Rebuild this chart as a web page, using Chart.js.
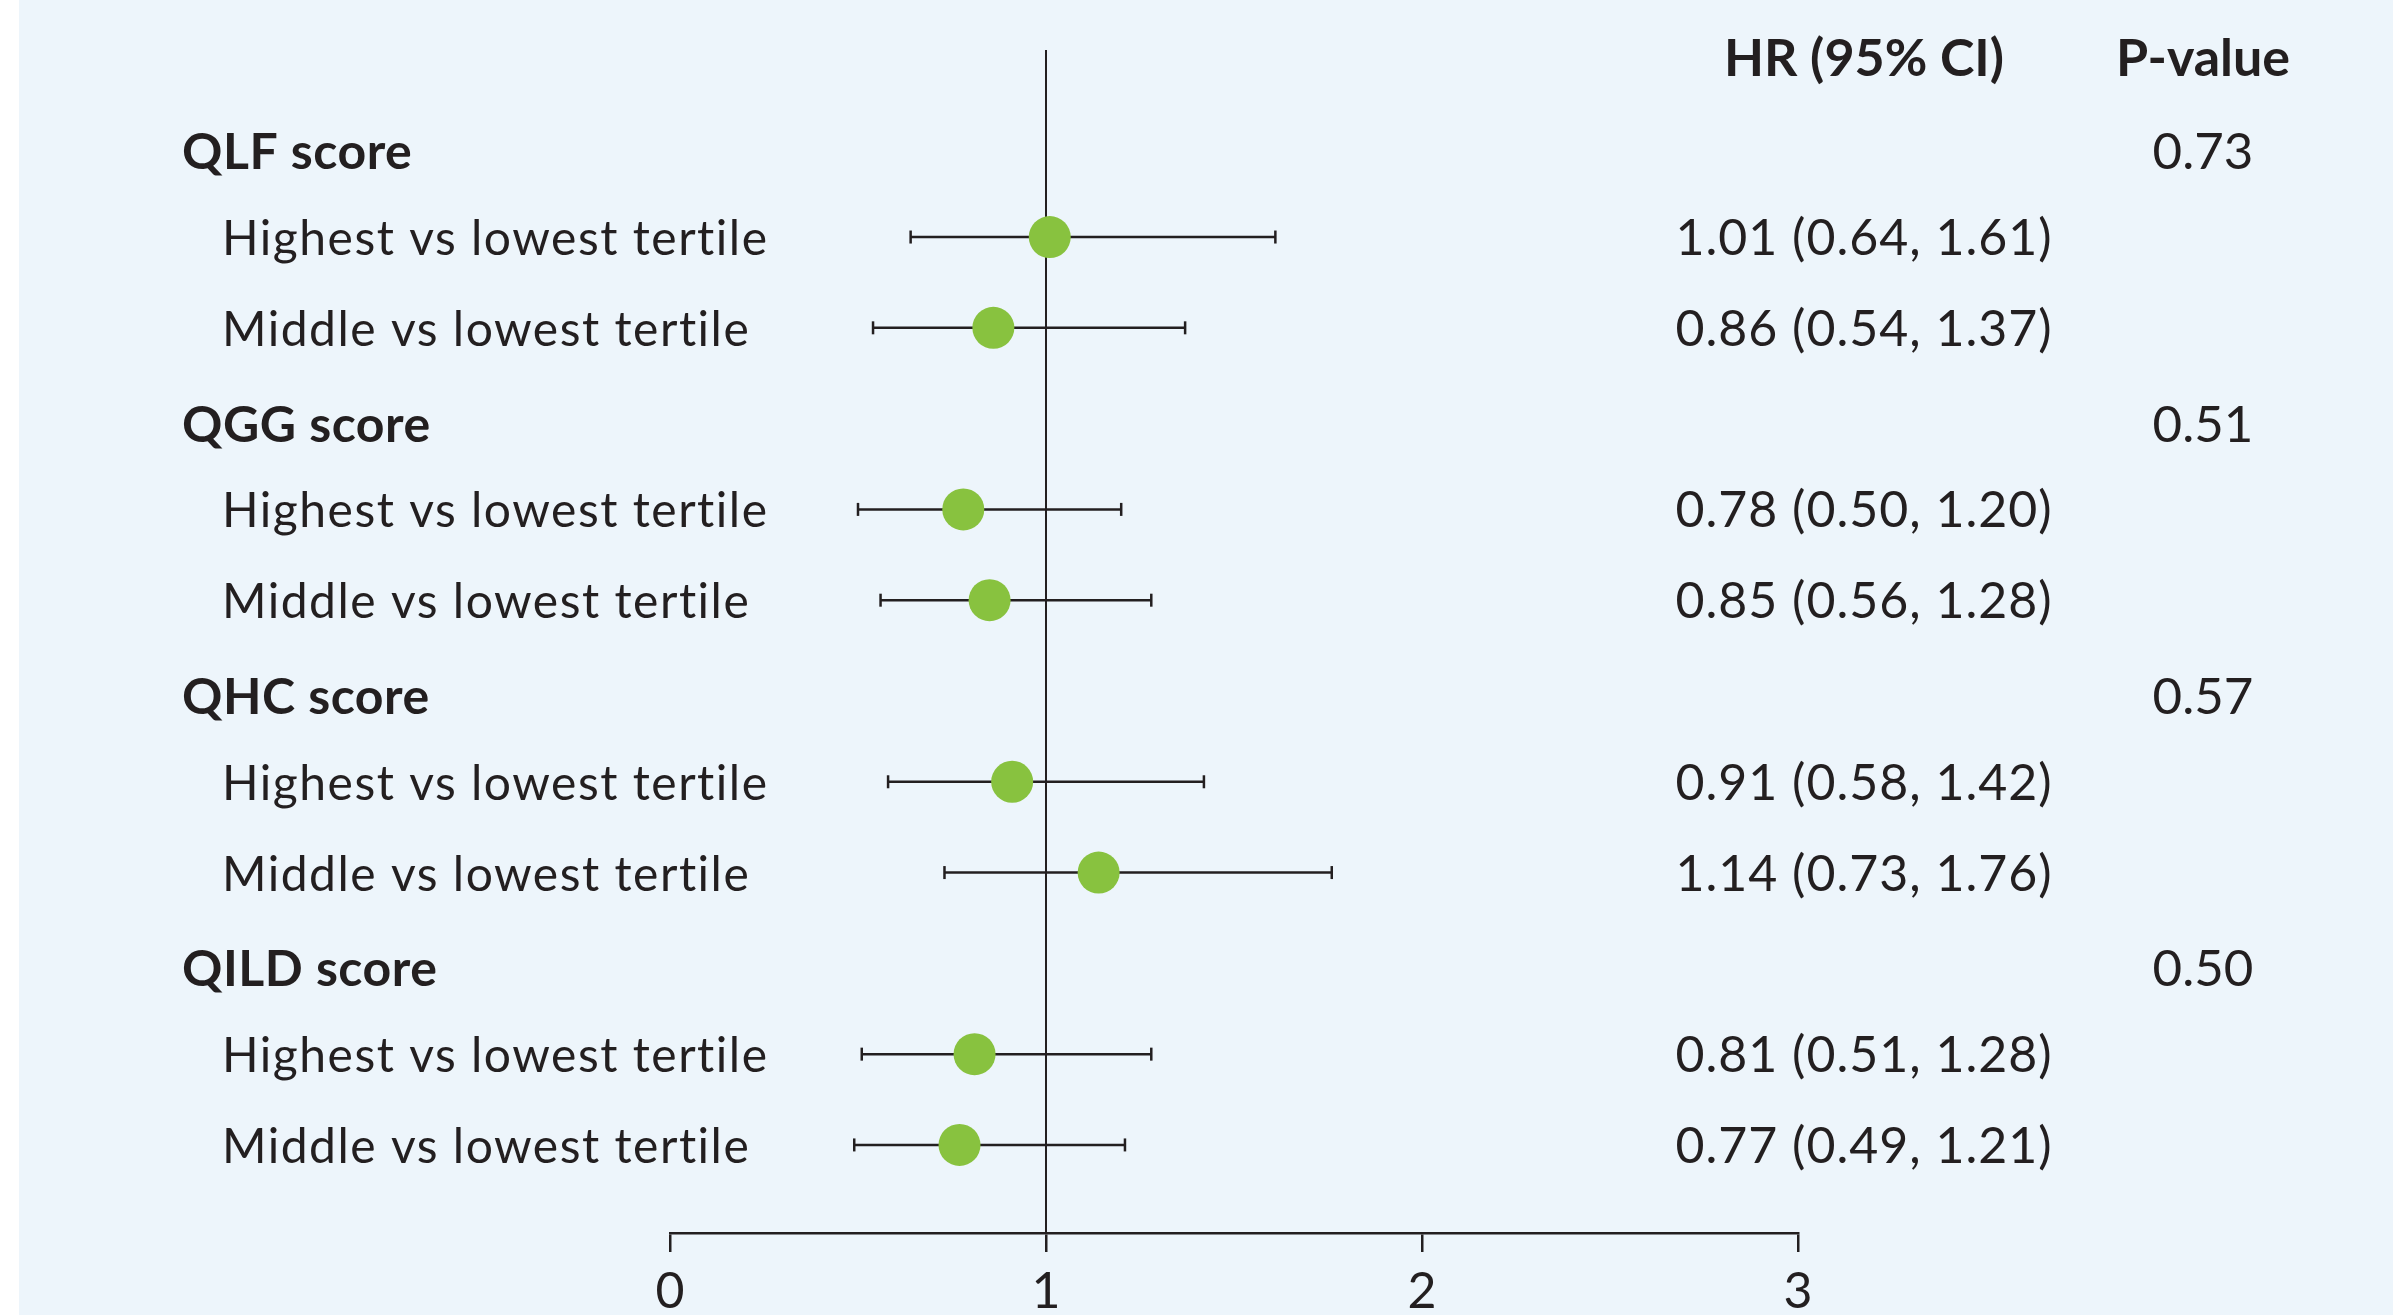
<!DOCTYPE html>
<html>
<head>
<meta charset="utf-8">
<script src="https://cdn.jsdelivr.net/npm/chart.js@4.4.1/dist/chart.umd.min.js"></script>
<style>
  html, body { margin: 0; padding: 0; background: #fff; }
  canvas { display: block; }
</style>
</head>
<body>
<canvas id="forest" width="2393" height="1315"></canvas>
<script>
// score groups and the two comparisons in each group
var groups = ["QLF score", "QGG score", "QHC score", "QILD score"];
var comparisons = ["Highest vs lowest tertile", "Middle vs lowest tertile"];

// hazard ratios, group by group (highest, middle)
var hr = [1.01, 0.86, 0.78, 0.85, 0.91, 1.14, 0.81, 0.77];
var ciLow = [0.64, 0.54, 0.50, 0.56, 0.58, 0.73, 0.51, 0.49];
var ciHigh = [1.61, 1.37, 1.20, 1.28, 1.42, 1.76, 1.28, 1.21];
var pValues = ["0.73", "0.51", "0.57", "0.50"];

var xTicks = [0, 1, 2, 3];
var refValue = 1;

var ink = "#231f20";
var green = "#88c23f";
var bg = "#edf5fb";

Chart.defaults.font.family = "Lato";
Chart.defaults.color = ink;

// row index for each comparison (group header takes one row)
function rowOf(g, c) { return g * 3 + 1 + c; }

var points = [];
var ciSets = [];
for (var g = 0; g < groups.length; g++) {
  for (var c = 0; c < comparisons.length; c++) {
    var i = g * 2 + c;
    var r = rowOf(g, c);
    points.push({ x: hr[i], y: r });
    ciSets.push({
      data: [{ x: ciLow[i], y: r }, { x: ciHigh[i], y: r }],
      showLine: true,
      borderColor: ink,
      borderWidth: 2.5,
      pointStyle: "line",
      pointRotation: 90,
      pointRadius: 6.5,
      pointBorderColor: ink,
      pointBorderWidth: 2.5,
      pointHoverRadius: 6.5
    });
  }
}

var yMin = -1.06, yMax = 11.97;

var datasets = [{
  data: points,
  pointStyle: "circle",
  pointRadius: 21,
  pointHoverRadius: 21,
  backgroundColor: green,
  pointBackgroundColor: green,
  pointBorderWidth: 0,
  borderWidth: 0
}].concat(ciSets).concat([{
  data: [{ x: refValue, y: yMin }, { x: refValue, y: yMax }],
  showLine: true,
  borderColor: ink,
  borderWidth: 2,
  pointRadius: 0,
  pointHoverRadius: 0
}]);

var forestText = {
  id: "forestText",
  beforeDraw: function (chart) {
    var ctx = chart.ctx;
    ctx.save();
    ctx.fillStyle = bg;
    ctx.fillRect(19, 0, chart.width - 19, chart.height);
    ctx.restore();
  },
  afterDraw: function (chart) {
    var ctx = chart.ctx;
    var ys = chart.scales.y;
    ctx.save();
    ctx.fillStyle = ink;
    ctx.textBaseline = "alphabetic";

    // column headers
    ctx.font = "bold 52px Lato";
    ctx.textAlign = "center";
    var hy = ys.getPixelForValue(-1) + 21;
    ctx.fillText("HR (95% CI)", 1864, hy);
    ctx.fillText("P-value", 2203, hy);

    for (var g = 0; g < groups.length; g++) {
      var gy = ys.getPixelForValue(g * 3) + 23;
      ctx.font = "bold 50px Lato";
      ctx.letterSpacing = "0.5px";
      ctx.textAlign = "left";
      ctx.fillText(groups[g], 182, gy);
      ctx.letterSpacing = "0px";
      ctx.font = "51px Lato";
      ctx.textAlign = "center";
      ctx.fillText(pValues[g], 2203, gy);

      for (var c = 0; c < comparisons.length; c++) {
        var i = g * 2 + c;
        var ry = ys.getPixelForValue(rowOf(g, c)) + 18;
        ctx.font = "48px Lato";
        ctx.letterSpacing = "1.5px";
        ctx.textAlign = "left";
        ctx.fillText(comparisons[c], 222, ry);
        ctx.font = "50px Lato";
        ctx.letterSpacing = "1px";
        ctx.textAlign = "center";
        var s = hr[i].toFixed(2) + " (" + ciLow[i].toFixed(2) + ", " + ciHigh[i].toFixed(2) + ")";
        ctx.fillText(s, 1864, ry);
        ctx.letterSpacing = "0px";
      }
    }
    ctx.restore();
  }
};

new Chart(document.getElementById("forest"), {
  type: "scatter",
  data: { datasets: datasets },
  options: {
    responsive: false,
    animation: false,
    devicePixelRatio: 1,
    layout: { padding: { left: 670, right: 595, top: 50, bottom: 0 } },
    plugins: { legend: { display: false }, tooltip: { enabled: false } },
    events: [],
    scales: {
      x: {
        type: "linear",
        min: 0,
        max: 3,
        afterBuildTicks: function (s) {
          s.ticks = xTicks.map(function (v) { return { value: v }; });
        },
        afterFit: function (s) { s.height = 82; },
        border: { display: true, color: ink, width: 2.5 },
        grid: {
          display: true,
          drawOnChartArea: false,
          drawTicks: true,
          tickLength: 19,
          tickWidth: 2.5,
          color: ink,
          lineWidth: 2.5
        },
        ticks: {
          font: { size: 50 },
          color: ink,
          padding: 10,
          maxRotation: 0,
          autoSkip: false
        }
      },
      y: {
        type: "linear",
        reverse: true,
        min: yMin,
        max: yMax,
        display: false
      }
    }
  },
  plugins: [forestText]
});
</script>
</body>
</html>
